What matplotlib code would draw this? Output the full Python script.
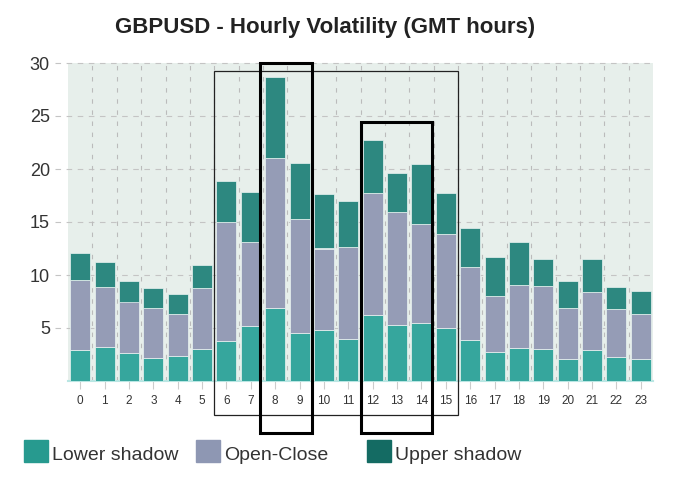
import matplotlib
matplotlib.use("Agg")
import matplotlib.pyplot as plt
from matplotlib.patches import Rectangle

plt.rcParams["font.family"] = ["Liberation Sans", "DejaVu Sans"]

hours = list(range(24))
lower_shadow = [2.9, 3.2, 2.6, 2.2, 2.4, 3.0, 3.8, 5.2, 6.9, 4.5, 4.8, 4.0,
                6.2, 5.3, 5.5, 5.0, 3.9, 2.7, 3.1, 3.0, 2.1, 2.9, 2.3, 2.1]
open_close_top = [9.5, 8.9, 7.5, 6.9, 6.3, 8.8, 15.0, 13.1, 21.0, 15.3, 12.5, 12.6,
                  17.7, 15.9, 14.8, 13.9, 10.8, 8.0, 9.1, 9.0, 6.9, 8.4, 6.8, 6.3]
total_top = [12.1, 11.2, 9.4, 8.8, 8.2, 10.9, 18.9, 17.8, 28.7, 20.6, 17.6, 17.0,
             22.7, 19.6, 20.5, 17.7, 14.4, 11.7, 13.1, 11.5, 9.4, 11.5, 8.9, 8.5]
open_close = [t - l for t, l in zip(open_close_top, lower_shadow)]
upper_shadow = [t - o for t, o in zip(total_top, open_close_top)]

series_names = ["Lower shadow", "Open-Close", "Upper shadow"]
bar_colors = ["#36a69d", "#959cb6", "#2d8880"]
swatch_colors = ["#279a8f", "#8e97b3", "#146b63"]

fig = plt.figure(figsize=(6.97, 4.8), dpi=100)
ax = fig.add_axes([68 / 697, 1 - 381 / 480, 585 / 697, 318 / 480])
ax.set_facecolor("#e7efeb")

bottom = [0] * 24
for vals, col in zip([lower_shadow, open_close, upper_shadow], bar_colors):
    ax.bar(hours, vals, bottom=bottom, width=0.82, color=col,
           edgecolor="#eaf4f2", linewidth=0.5, zorder=3)
    bottom = [b + v for b, v in zip(bottom, vals)]

ax.set_xlim(-0.5, 23.5)
ax.set_ylim(0, 30)
ax.set_yticks([5, 10, 15, 20, 25, 30])
ax.set_xticks(hours)
ax.set_xticks([h + 0.5 for h in hours[:-1]], minor=True)
ax.tick_params(axis="y", length=0, pad=13, labelsize=13, labelcolor="#333333")
ax.tick_params(axis="x", which="major", length=6, color="#cccccc",
               pad=4, labelsize=8.5, labelcolor="#333333")
ax.tick_params(axis="x", which="minor", length=0)
ax.grid(axis="x", which="minor", color="#bbbbbb", linestyle=(0, (4, 6)),
        linewidth=0.8, zorder=1)
for y in [5, 10, 15, 20, 25, 30]:
    ax.axhline(y, xmin=-13 / 585, xmax=1, color="#c4c4c4",
               linestyle=(0, (5, 5)), linewidth=0.8, clip_on=False, zorder=1)
for side in ["top", "right", "left"]:
    ax.spines[side].set_visible(False)
ax.spines["bottom"].set_color("#b9e6e3")
ax.spines["bottom"].set_linewidth(1.5)

# highlight boxes
ax.add_patch(Rectangle((5.5, -3.2), 10.0, 32.4, fill=False, edgecolor="#222222",
                       linewidth=0.9, clip_on=False, zorder=5))
ax.add_patch(Rectangle((7.37, -4.9), 2.13, 34.9, fill=False, edgecolor="black",
                       linewidth=2.2, clip_on=False, zorder=5))
ax.add_patch(Rectangle((11.5, -4.9), 2.95, 29.3, fill=False, edgecolor="black",
                       linewidth=2.2, clip_on=False, zorder=5))

fig.text(325 / 697, 1 - 27 / 480, "GBPUSD - Hourly Volatility (GMT hours)",
         ha="center", va="center", fontsize=16, fontweight="bold", color="#222222")

# legend
swatch_x = [24, 196, 367]
for name, col, sx in zip(series_names, swatch_colors, swatch_x):
    fig.patches.append(Rectangle((sx / 697, 1 - 462 / 480), 24 / 697, 22 / 480,
                                 transform=fig.transFigure, color=col))
    fig.text((sx + 28) / 697, 1 - 455 / 480, name, ha="left", va="center",
             fontsize=14, color="#333333")

fig.savefig("out.png", dpi=100)
